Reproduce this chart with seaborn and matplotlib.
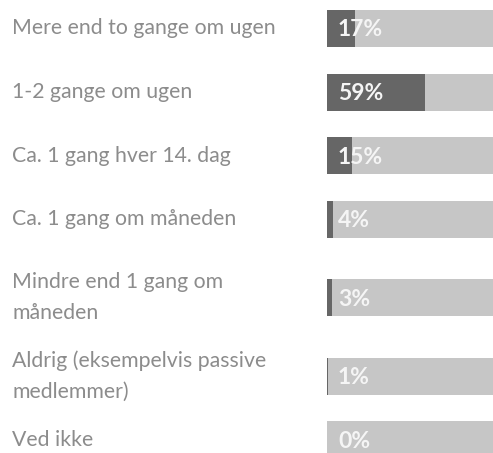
import matplotlib
matplotlib.use('Agg')
import matplotlib.pyplot as plt
import matplotlib.transforms as mtransforms
import numpy as np
import pandas as pd
import seaborn as sns

# survey answers (Danish) and share of respondents in percent
labels = [
    'Mere end to gange om ugen',
    '1-2 gange om ugen',
    'Ca. 1 gang hver 14. dag',
    'Ca. 1 gang om måneden',
    'Mindre end 1 gang om\nmåneden',
    'Aldrig (eksempelvis passive\nmedlemmer)',
    'Ved ikke',
]
values = [17, 59, 15, 4, 3, 1, 0]

sns.set_style('white')
plt.rcParams['font.family'] = ['Lato', 'DejaVu Sans']

# row centres in pixel units: two-line labels get a taller row
ypos = []
y = 28.5
for i, lab in enumerate(labels):
    if i > 0:
        y += 63.5 + 15 * lab.count('\n')
    ypos.append(y)

df = pd.DataFrame({'label': labels, 'value': values, 'y': ypos})
df['full'] = 100

fig = plt.figure(figsize=(4.93, 4.53), dpi=100)
ax = fig.add_axes([326.7 / 493, 0, 166.3 / 493, 1])

bar_w = 37 / np.diff(ypos).min()
sns.barplot(data=df, x='full', y='y', orient='h', native_scale=True, width=bar_w,
            color='#c6c6c6', saturation=1, errorbar=None, linewidth=0, ax=ax)
sns.barplot(data=df, x='value', y='y', orient='h', native_scale=True, width=bar_w,
            color='#666666', saturation=1, errorbar=None, linewidth=0, ax=ax)

ax.set_xlim(0, 100)
ax.set_ylim(453, 0)
ax.axis('off')

for _, row in df.iterrows():
    ax.text(6.8, row['y'] + 1.5, f"{row['value']}%", color='#f5f5f5', fontsize=16.5,
            fontweight='bold', ha='left', va='center')

# category labels on the left, in figure x / data y
trans = mtransforms.blended_transform_factory(fig.transFigure, ax.transData)
for _, row in df.iterrows():
    ax.text(12 / 493, row['y'], row['label'], transform=trans, color='#8c8c8c',
            fontsize=15.3, ha='left', va='center', linespacing=1.65, clip_on=False)

plt.savefig('out.png', dpi=100)
